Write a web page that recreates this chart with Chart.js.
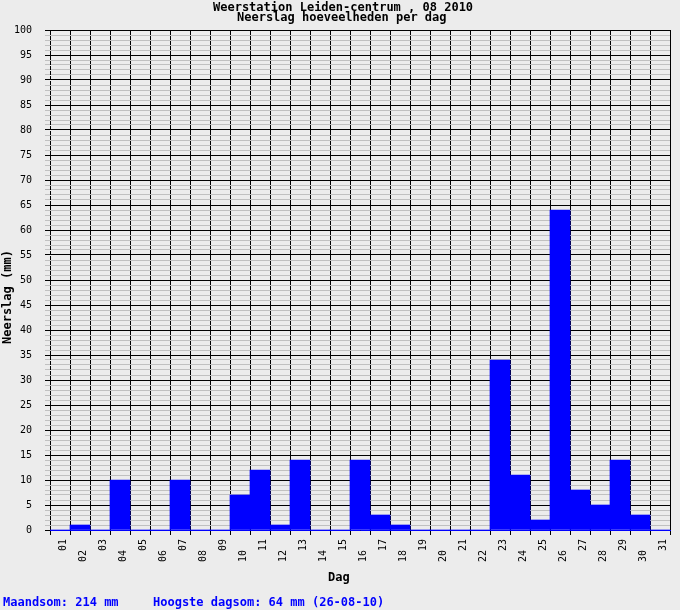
<!DOCTYPE html>
<html>
<head>
<meta charset="utf-8">
<script src="https://cdn.jsdelivr.net/npm/chart.js@4"></script>
<style>
html, body { margin: 0; padding: 0; background: #ececec; }
#wrap { width: 680px; height: 610px; position: relative; }
</style>
</head>
<body>
<div id="wrap"><canvas id="c"></canvas></div>
<script>
const days = ['01','02','03','04','05','06','07','08','09','10','11','12','13','14','15','16',
              '17','18','19','20','21','22','23','24','25','26','27','28','29','30','31'];
const rainfall = [0,1,0,10,0,0,10,0,0,7,12,1,14,0,0,14,3,1,0,0,0,0,34,11,2,64,8,5,14,3,0];
const yMin = 0, yMax = 100, yMinorStep = 1, yMajorStep = 5;
const titleLines = ['Weerstation Leiden-centrum , 08 2010', 'Neerslag hoeveelheden per dag'];
const yTitle = 'Neerslag (mm)';
const xTitle = 'Dag';
const footerLeft = 'Maandsom: 214 mm';
const footerRight = 'Hoogste dagsom: 64 mm (26-08-10)';

const MONO = '"DejaVu Sans Mono", "Liberation Mono", monospace';

const textPlugin = {
  id: 'texts',
  beforeDatasetsDraw(chart) {
    const ctx = chart.ctx, a = chart.chartArea;
    ctx.save();
    ctx.strokeStyle = '#000';
    ctx.lineWidth = 1;
    ctx.setLineDash([4, 1]);
    ctx.lineDashOffset = 4;
    ctx.beginPath();
    ctx.moveTo(Math.round(a.left) + 0.5, a.top);
    ctx.lineTo(Math.round(a.left) + 0.5, a.bottom);
    ctx.stroke();
    ctx.restore();
  },
  afterDraw(chart) {
    const ctx = chart.ctx;
    const xs = chart.scales.x;
    ctx.save();
    ctx.fillStyle = '#000';
    ctx.textBaseline = 'alphabetic';
    ctx.textAlign = 'left';
    ctx.font = 'bold 12px ' + MONO;
    ctx.fillText(titleLines[0], 213, 11);
    ctx.fillText(titleLines[1], 237, 21);
    ctx.fillText(xTitle, 328, 581);

    ctx.save();
    ctx.translate(11, 344);
    ctx.rotate(-Math.PI / 2);
    ctx.textAlign = 'left';
    ctx.fillText(yTitle, 0, 0);
    ctx.restore();

    ctx.font = '10px ' + MONO;
    days.forEach((d, i) => {
      const x = xs.getPixelForValue(i);
      ctx.save();
      ctx.translate(x + 6, i % 2 === 0 ? 539 : 550);
      ctx.rotate(-Math.PI / 2);
      ctx.textAlign = 'right';
      ctx.fillText(d, 0, 0);
      ctx.restore();
    });

    ctx.font = 'bold 12px ' + MONO;
    ctx.fillStyle = '#0000ff';
    ctx.textAlign = 'left';
    ctx.fillText(footerLeft, 3, 606);
    ctx.fillText(footerRight, 153, 606);
    ctx.restore();
  }
};

new Chart(document.getElementById('c'), {
  type: 'bar',
  data: {
    labels: days,
    datasets: [{
      data: rainfall,
      backgroundColor: '#0000ff',
      borderWidth: 0,
      categoryPercentage: 1,
      barPercentage: 1
    }]
  },
  options: {
    responsive: true,
    maintainAspectRatio: false,
    animation: false,
    layout: { padding: { top: 30, right: 10, left: 0, bottom: 0 } },
    plugins: { legend: { display: false }, tooltip: { enabled: false }, title: { display: false } },
    scales: {
      x: {
        offset: true,
        grid: {
          offset: true,
          color: ctx => ctx.index === 0 ? 'rgba(0,0,0,0)' : '#000',
          tickColor: '#000',
          tickLength: 5,
          lineWidth: 1
        },
        border: { display: true, color: '#0000ff', width: 1, z: 1 },
        ticks: { display: false },
        afterFit: s => { s.height = 80; }
      },
      y: {
        min: yMin,
        max: yMax,
        ticks: {
          stepSize: yMinorStep,
          autoSkip: false,
          callback: v => (v % yMajorStep === 0 ? String(v) : ''),
          font: { family: MONO, size: 10 },
          color: '#000',
          padding: 13
        },
        grid: {
          color: ctx => (ctx.tick && ctx.tick.value % yMajorStep === 0) ? '#000' : '#c0c0c0',
          tickLength: 5,
          lineWidth: 1
        },
        border: { display: false },
        afterFit: s => { s.width = 50; }
      }
    }
  },
  plugins: [textPlugin]
});
</script>
</body>
</html>
